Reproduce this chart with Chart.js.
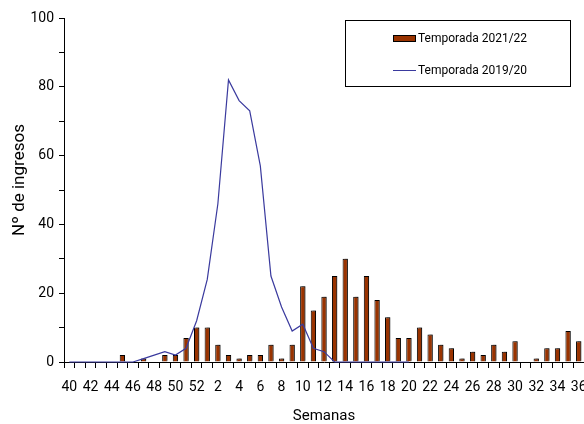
<!DOCTYPE html>
<html>
<head>
<meta charset="utf-8">
<script src="https://cdn.jsdelivr.net/npm/chart.js@4.4.0/dist/chart.umd.min.js"></script>
<style>
html,body{margin:0;padding:0;background:#fff;overflow:hidden;}
#wrap{position:relative;width:584px;height:424px;}
</style>
</head>
<body>
<div id="wrap"><canvas id="c" width="584" height="424"></canvas></div>
<script>
const weeks = [40,41,42,43,44,45,46,47,48,49,50,51,52,1,2,3,4,5,6,7,8,9,10,11,12,13,14,15,16,17,18,19,20,21,22,23,24,25,26,27,28,29,30,31,32,33,34,35,36];
const season2122 = [0,0,0,0,0,2,0,1,0,2,2,7,10,10,5,2,1,2,2,5,1,5,22,15,19,25,30,19,25,18,13,7,7,10,8,5,4,1,3,2,5,3,6,0,1,4,4,9,6];
const season1920 = [0,0,0,0,0,0,0,1,2,3,2,4,12,24,46,82,76,73,57,25,16,9,11,4,3,0,0,0,0,0,0,0,0,null,null,null,null,null,null,null,null,null,null,null,null,null,null,null,null];
const seriesNames = ['Temporada 2021/22','Temporada 2019/20'];
const yTicks = [0,20,40,60,80,100];
const xTitle = 'Semanas';
const yTitle = 'Nº de ingresos';

const BAR = '#993300', LINE = '#3a3a9e';
const FONT = 'Roboto, "Liberation Sans", sans-serif';

const barShadow = {
  id:'barShadow',
  beforeDatasetDraw(chart, args){
    if (args.index !== 0) return;
    const ctx = chart.ctx; ctx.save();
    ctx.shadowColor = 'rgba(0,0,0,0.35)';
    ctx.shadowOffsetX = 2; ctx.shadowOffsetY = -1; ctx.shadowBlur = 0;
  },
  afterDatasetDraw(chart, args){
    if (args.index !== 0) return;
    chart.ctx.restore();
  }
};

const extras = {
  id:'extras',
  afterDraw(chart){
    const ctx = chart.ctx;
    ctx.save();
    ctx.translate(20, 180);
    ctx.rotate(-Math.PI/2);
    ctx.fillStyle = '#000';
    ctx.font = '17px ' + FONT;
    ctx.textAlign = 'center'; ctx.textBaseline = 'middle';
    ctx.fillText(yTitle, 0, 0);
    ctx.restore();
    ctx.save();
    ctx.fillStyle = '#fff';
    ctx.fillRect(345.5, 20.5, 225, 66);
    ctx.strokeStyle = '#000'; ctx.lineWidth = 1;
    ctx.strokeRect(345.5, 20.5, 225, 66);
    ctx.fillStyle = BAR;
    ctx.fillRect(393.5, 35.5, 22, 6);
    ctx.strokeRect(393.5, 35.5, 22, 6);
    ctx.strokeStyle = LINE;
    ctx.beginPath(); ctx.moveTo(393, 70.5); ctx.lineTo(416, 70.5); ctx.stroke();
    ctx.fillStyle = '#000';
    ctx.font = '12px ' + FONT;
    ctx.textAlign = 'left'; ctx.textBaseline = 'middle';
    ctx.fillText(seriesNames[0], 418, 38.5);
    ctx.fillText(seriesNames[1], 418, 70.5);
    ctx.restore();
  }
};

new Chart(document.getElementById('c'), {
  type:'bar',
  data:{
    labels: weeks.map(String),
    datasets:[
      {label:seriesNames[0], data:season2122, backgroundColor:BAR, borderColor:'#000', borderWidth:1,
       barPercentage:0.5, categoryPercentage:1.0, order:2},
      {type:'line', label:seriesNames[1], data:season1920, borderColor:LINE, borderWidth:1.2,
       pointRadius:0, tension:0, fill:false, spanGaps:false, order:1, clip:false}
    ]
  },
  options:{
    responsive:false, animation:false,
    layout:{padding:{top:18,left:0,right:0,bottom:0}},
    plugins:{legend:{display:false}, tooltip:{enabled:false}, title:{display:false}},
    scales:{
      x:{
        offset:true,
        grid:{offset:true, drawOnChartArea:false, drawTicks:true, tickLength:6, color:'#000'},
        border:{color:'#000', width:1},
        ticks:{autoSkip:false, maxRotation:0, minRotation:0, padding:11, color:'#000',
               font:{family:FONT, size:14},
               callback:(v,i)=> i%2===0 ? weeks[i] : ''},
        title:{display:true, text:xTitle, color:'#000', font:{family:FONT, size:15, lineHeight:1}, padding:{top:0,bottom:0}},
        afterFit(s){ s.height = 62; s.paddingLeft = 0; s.paddingRight = 0; }
      },
      y:{
        min:0, max:100,
        grid:{drawOnChartArea:false, drawTicks:true, tickLength:5, color:'#000'},
        border:{color:'#000', width:1},
        ticks:{stepSize:10, padding:5, color:'#000', font:{family:FONT, size:14},
               callback:(v)=> yTicks.includes(v) ? String(v) : ''},
        afterFit(s){ s.width = 64; s.paddingTop = 0; s.paddingBottom = 0; }
      }
    }
  },
  plugins:[barShadow, extras]
});
</script>
</body>
</html>
